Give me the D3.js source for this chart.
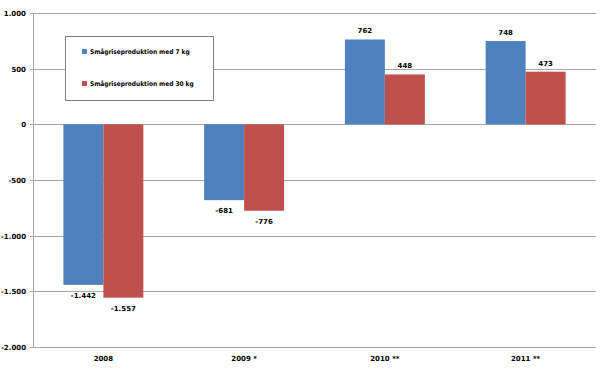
<!DOCTYPE html>
<html>
<head>
<meta charset="utf-8">
<script src="https://cdn.jsdelivr.net/npm/d3@7"></script>
<style>
  body { margin: 0; background: #fff; }
  text { font-family: "DejaVu Sans", Verdana, sans-serif; font-weight: bold; fill: #000; }
  .legend text { font-family: "DejaVu Sans Condensed", "DejaVu Sans", sans-serif; }
</style>
</head>
<body>
<div id="chart"></div>
<script>
// Data
const categories = ['2008', '2009 *', '2010 **', '2011 **'];
const series_names = ['Smågriseproduktion med 7 kg', 'Smågriseproduktion med 30 kg'];
const kg7 = [-1442, -681, 762, 748];
const kg30 = [-1557, -776, 448, 473];
const y_ticks = [-2000, -1500, -1000, -500, 0, 500, 1000];

const series = [kg7, kg30];
const colors = ['#4F81BD', '#C0504D'];
const locale = d3.formatLocale({ decimal: ',', thousands: '.', grouping: [3], currency: ['', ''], minus: '-' });
const fmt = locale.format(',');

const chart_width = 600;
const chart_height = 369;
const margin = { top: 13, right: 4, bottom: 22, left: 33 };

// Scales
const x_scale = d3.scaleBand()
    .domain(categories)
    .range([margin.left, chart_width - margin.right])
    .paddingInner(0)
    .paddingOuter(0);

const x_inner = d3.scaleBand()
    .domain(d3.range(series.length))
    .range([0, x_scale.bandwidth()])
    .paddingOuter(0.76)
    .paddingInner(0);

const y_scale = d3.scaleLinear()
    .domain([-2000, 1000])
    .range([chart_height - margin.bottom, margin.top]);

// SVG
const svg = d3.select('#chart')
    .append('svg')
    .attr('width', chart_width)
    .attr('height', chart_height);

// Gridlines
svg.append('g')
    .selectAll('line')
    .data(y_ticks)
    .enter()
    .append('line')
    .attr('x1', margin.left - 3)
    .attr('x2', chart_width - margin.right)
    .attr('y1', d => Math.round(y_scale(d)) + 0.5)
    .attr('y2', d => Math.round(y_scale(d)) + 0.5)
    .attr('stroke', '#a6a6a6')
    .attr('stroke-width', 1);

// Y axis line
svg.append('line')
    .attr('x1', margin.left + 0.5)
    .attr('x2', margin.left + 0.5)
    .attr('y1', y_scale(1000))
    .attr('y2', y_scale(-2000))
    .attr('stroke', '#a6a6a6');

// Y tick labels
svg.append('g')
    .selectAll('text')
    .data(y_ticks)
    .enter()
    .append('text')
    .attr('x', 26)
    .attr('y', d => y_scale(d) + 3)
    .attr('text-anchor', 'end')
    .attr('font-size', '7px')
    .text(d => fmt(d));

// Bars
const groups = svg.selectAll('g.series')
    .data(series)
    .enter()
    .append('g')
    .attr('class', 'series')
    .attr('fill', (d, i) => colors[i]);

groups.each(function (vals, si) {
    const g = d3.select(this);
    g.selectAll('rect')
        .data(vals)
        .enter()
        .append('rect')
        .attr('x', (d, i) => x_scale(categories[i]) + x_inner(si))
        .attr('y', d => y_scale(Math.max(0, d)))
        .attr('width', x_inner.bandwidth())
        .attr('height', d => Math.abs(y_scale(d) - y_scale(0)));

    g.selectAll('text')
        .data(vals)
        .enter()
        .append('text')
        .attr('text-anchor', 'middle')
        .attr('font-size', '7px')
        .attr('x', (d, i) => x_scale(categories[i]) + x_inner(si) + x_inner.bandwidth() / 2)
        .attr('y', d => d >= 0 ? y_scale(d) - 6 : y_scale(d) + 13)
        .text(d => fmt(d));
});

// X labels
svg.append('g')
    .selectAll('text')
    .data(categories)
    .enter()
    .append('text')
    .attr('text-anchor', 'middle')
    .attr('font-size', '7px')
    .attr('x', d => x_scale(d) + x_scale.bandwidth() / 2)
    .attr('y', chart_height - margin.bottom + 14)
    .text(d => d);

// Legend
const legend = svg.append('g').attr('class', 'legend').attr('transform', 'translate(65,36)');
legend.append('rect')
    .attr('x', 0.5).attr('y', 0.5)
    .attr('width', 148).attr('height', 64)
    .attr('fill', '#fff')
    .attr('stroke', '#8080a0');

const items = legend.selectAll('g.item')
    .data(series_names)
    .enter()
    .append('g')
    .attr('transform', (d, i) => `translate(17,${16 + i * 32})`);

items.append('rect')
    .attr('x', 0).attr('y', -3)
    .attr('width', 5).attr('height', 5)
    .attr('fill', (d, i) => colors[i]);

items.append('text')
    .attr('x', 8)
    .attr('y', 2)
    .attr('font-size', '6.5px')
    .text(d => d);
</script>
</body>
</html>
